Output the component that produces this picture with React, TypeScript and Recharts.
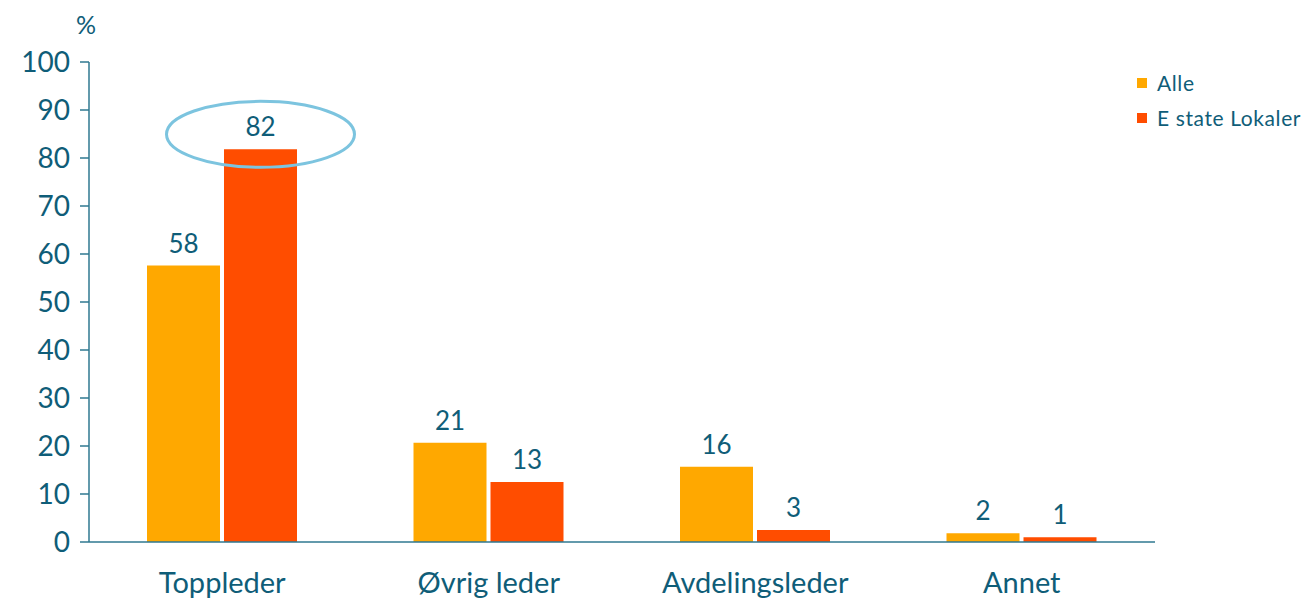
import React from "react";
import { BarChart, Bar, XAxis, YAxis, LabelList } from "recharts";

const categories = ["Toppleder", "Øvrig leder", "Avdelingsleder", "Annet"];
const alleValues = [57.6, 20.7, 15.7, 1.8];
const estateValues = [81.8, 12.5, 2.5, 1.0];
const alleLabels = ["58", "21", "16", "2"];
const estateLabels = ["82", "13", "3", "1"];
const yTicks = [0, 10, 20, 30, 40, 50, 60, 70, 80, 90, 100];
const seriesNames = ["Alle", "E state Lokaler"];
const highlightIndex = 0;

const data = categories.map((c, i) => ({
  name: c,
  alle: alleValues[i],
  estate: estateValues[i],
}));

const TEXT = "#0f5d78";
const AXIS = "#2f7891";
const ORANGE = "#ffa800";
const RED = "#ff4d00";
const FONT = "Lato, 'Open Sans', sans-serif";

const makeLabel = (labels: string[], highlight: boolean) => (props: any) => {
  const { x, y, width, index } = props;
  const cx = x + width / 2;
  const ty = y - 13;
  return (
    <g>
      {highlight && index === highlightIndex && (
        <ellipse cx={cx} cy={ty - 2} rx={94} ry={33} fill="none" stroke="#7cc4df" strokeWidth={3} />
      )}
      <text x={cx} y={ty} textAnchor="middle" fill={TEXT} fontSize={26} fontFamily={FONT}>
        {labels[index]}
      </text>
    </g>
  );
};

export default function App() {
  return (
    <div style={{ position: "absolute", left: 0, top: 0, width: 1309, height: 603, background: "#fff", fontFamily: FONT }}>
      <div style={{ position: "absolute", left: 76, top: 9, fontSize: 25, color: TEXT }}>%</div>
      <div style={{ position: "absolute", left: 1137, top: 65, fontSize: 21, letterSpacing: 0.6, color: TEXT, lineHeight: "35px" }}>
        {seriesNames.map((n, i) => (
          <div key={n} style={{ display: "flex", alignItems: "center" }}>
            <span style={{ display: "inline-block", width: 10, height: 10, background: i === 0 ? ORANGE : RED, marginRight: 10 }} />
            <span>{n}</span>
          </div>
        ))}
      </div>
      <BarChart
        width={1309}
        height={603}
        data={data}
        margin={{ top: 62, right: 154, bottom: 0, left: 0 }}
        barCategoryGap={58}
        barGap={4}
      >
        <YAxis
          width={89}
          domain={[0, 100]}
          ticks={yTicks}
          interval={0}
          tick={{ fill: TEXT, fontSize: 28, fontFamily: FONT }}
          tickSize={9}
          tickMargin={10}
          stroke={AXIS}
          axisLine={{ stroke: AXIS, strokeWidth: 1.5 }}
          tickLine={{ stroke: AXIS, strokeWidth: 1.5 }}
        />
        <XAxis
          dataKey="name"
          height={61}
          tick={{ fill: TEXT, fontSize: 29, fontFamily: FONT }}
          tickLine={false}
          tickSize={0}
          tickMargin={30}
          axisLine={{ stroke: AXIS, strokeWidth: 1.5 }}
        />
        <Bar dataKey="alle" fill={ORANGE} isAnimationActive={false}>
          <LabelList dataKey="alle" content={makeLabel(alleLabels, false)} />
        </Bar>
        <Bar dataKey="estate" fill={RED} isAnimationActive={false}>
          <LabelList dataKey="estate" content={makeLabel(estateLabels, true)} />
        </Bar>
      </BarChart>
    </div>
  );
}
